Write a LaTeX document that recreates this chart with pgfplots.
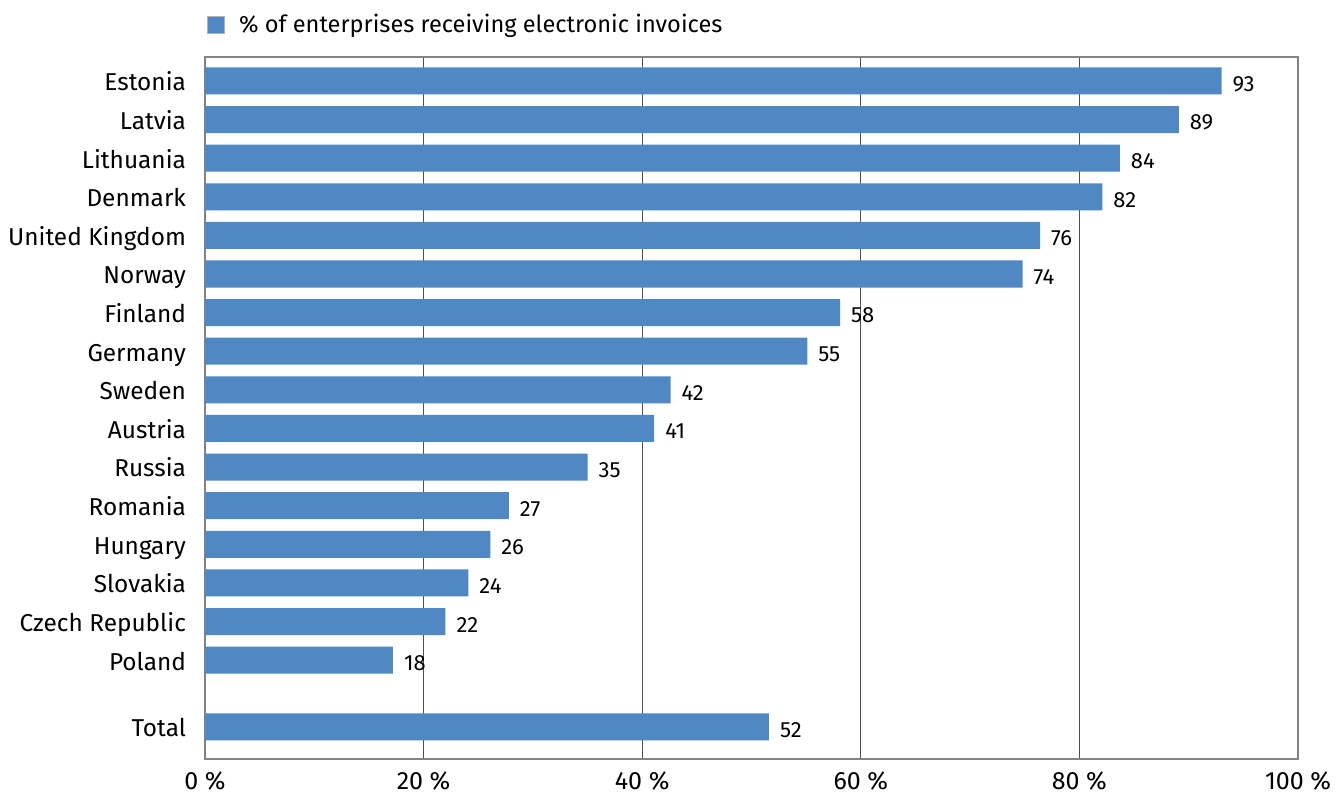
\documentclass[border=0pt]{standalone}
\usepackage{fontspec}
\setmainfont{Fira Sans}
\usepackage{pgfplots}
\usepackage{pgfplotstable}
\pgfplotsset{compat=1.18}
\definecolor{barblue}{RGB}{79,136,194}
\definecolor{gridgray}{RGB}{80,80,80}
\definecolor{framegray}{RGB}{130,130,130}
\pgfplotstableread{
y x lab
16.73 93.0 93
15.73 89.1 89
14.73 83.7 84
13.73 82.1 82
12.73 76.4 76
11.73 74.8 74
10.73 58.1 58
9.73 55.1 55
8.73 42.6 42
7.73 41.1 41
6.73 35.0 35
5.73 27.8 27
4.73 26.1 26
3.73 24.1 24
2.73 22.0 22
1.73 17.2 18
0 51.6 52
}\datatable
\begin{document}
\begin{tikzpicture}
\begin{axis}[
  at={(0,0)}, anchor=south west,
  scale only axis,
  width=546.5pt, height=351pt,
  xbar, bar width=0.7,
  xmin=0, xmax=100,
  ymin=-0.83, ymax=17.35,
  xtick={0,20,40,60,80,100},
  xticklabels={0 \%,20 \%,40 \%,60 \%,80 \%,100 \%},
  ytick={0,1.73,2.73,3.73,4.73,5.73,6.73,7.73,8.73,9.73,10.73,11.73,12.73,13.73,14.73,15.73,16.73},
  yticklabels={Total,Poland,Czech Republic,Slovakia,Hungary,Romania,Russia,Austria,Sweden,Germany,Finland,Norway,United Kingdom,Denmark,Lithuania,Latvia,Estonia},
  major tick length=0pt,
  xmajorgrids,
  grid style={gridgray, line width=0.6pt},
  axis line style={framegray, line width=0.8pt},
  yticklabel style={font=\fontsize{12.2}{14}\selectfont, anchor=east, xshift=-6pt, yshift=-1.5pt, text depth=0.2em, text height=0.89em},
  xticklabel style={font=\fontsize{12.5}{14}\selectfont, yshift=-3pt},
  nodes near coords={\pgfplotspointmeta},
  point meta=explicit symbolic,
  nodes near coords style={font=\fontsize{11}{13}\selectfont, anchor=west, xshift=2pt, yshift=-1.5pt},
  legend style={at={(0,1)}, anchor=west, yshift=16pt, xshift=-2pt, draw=none, fill=none, font=\fontsize{11.8}{15}\selectfont,
    /tikz/every odd column/.append style={column sep=5pt}},
  legend image code/.code={\draw[fill=barblue, draw=gray!60] (0pt,-4.25pt) rectangle (8.5pt,4.25pt);},
]
\addplot[fill=barblue, draw=none] table[x=x, y=y, meta=lab] {\datatable};
\addlegendentry{\% of enterprises receiving electronic invoices}
\end{axis}
\pgfresetboundingbox
\path (-102.5pt,-18.5pt) rectangle (565.5pt,379.5pt);
\end{tikzpicture}
\end{document}
